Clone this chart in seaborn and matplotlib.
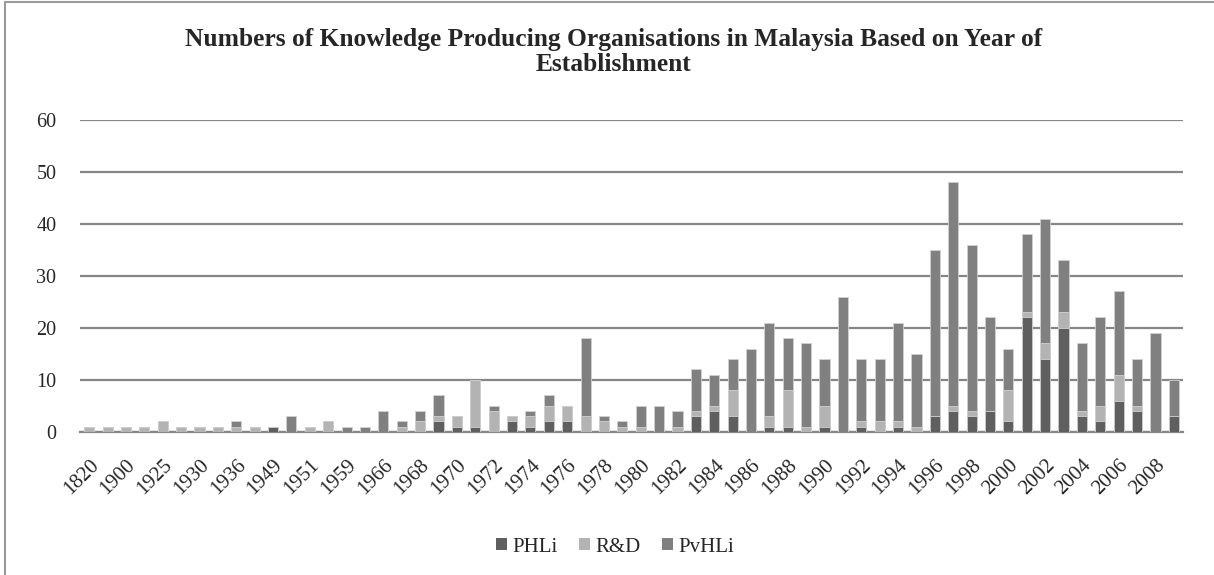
import matplotlib
matplotlib.use("Agg")
import matplotlib.pyplot as plt
import seaborn as sns
import numpy as np
from matplotlib.patches import Patch
from matplotlib.lines import Line2D

years = ["1820", "1890", "1900", "1920", "1925", "1928", "1930", "1935", "1936", "1946",
         "1949", "1950", "1951", "1955", "1959", "1963", "1966", "1967", "1968", "1969",
         "1970", "1971", "1972", "1973", "1974", "1975", "1976", "1977", "1978", "1979",
         "1980", "1981", "1982", "1983", "1984", "1985", "1986", "1987", "1988", "1989",
         "1990", "1991", "1992", "1993", "1994", "1995", "1996", "1997", "1998", "1999",
         "2000", "2001", "2002", "2003", "2004", "2005", "2006", "2007", "2008", "2009"]

phli = [0, 0, 0, 0, 0, 0, 0, 0, 0, 0,
        1, 0, 0, 0, 0, 0, 0, 0, 0, 2,
        1, 1, 0, 2, 1, 2, 2, 0, 0, 0,
        0, 0, 0, 3, 4, 3, 0, 1, 1, 0,
        1, 0, 1, 0, 1, 0, 3, 4, 3, 4,
        2, 22, 14, 20, 3, 2, 6, 4, 0, 3]

rnd = [1, 1, 1, 1, 2, 1, 1, 1, 1, 1,
       0, 0, 1, 2, 0, 0, 0, 1, 2, 1,
       2, 9, 4, 1, 2, 3, 3, 3, 2, 1,
       1, 0, 1, 1, 1, 5, 0, 2, 7, 1,
       4, 0, 1, 2, 1, 1, 0, 1, 1, 0,
       6, 1, 3, 3, 1, 3, 5, 1, 0, 0]

pvhli = [0, 0, 0, 0, 0, 0, 0, 0, 1, 0,
         0, 3, 0, 0, 1, 1, 4, 1, 2, 4,
         0, 0, 1, 0, 1, 2, 0, 15, 1, 1,
         4, 5, 3, 8, 6, 6, 16, 18, 10, 16,
         9, 26, 12, 12, 19, 14, 32, 43, 32, 18,
         8, 15, 24, 10, 13, 17, 16, 9, 19, 7]

series_names = ["PHLi", "R&D", "PvHLi"]
colors = {"PHLi": "#5f5f5f", "R&D": "#b3b3b3", "PvHLi": "#808080"}

sns.set_theme(style="white")
plt.rcParams["font.family"] = ["Liberation Serif", "DejaVu Serif"]

fig = plt.figure(figsize=(12.14, 5.75), dpi=100)
ax = fig.add_axes([0.0659, 0.2492, 0.9086, 0.5426])

p = np.array(phli)
r = np.array(rnd)
v = np.array(pvhli)
layers = [("PvHLi", p + r + v), ("R&D", p + r), ("PHLi", p)]
for name, vals in layers:
    sns.barplot(x=years, y=vals, order=years, color=colors[name], saturation=1,
                width=0.55, edgecolor="#d0d0d0", linewidth=0.6, ax=ax, zorder=3)

ax.set_ylim(0, 60)
ax.set_xlim(-0.5, len(years) - 0.5)
ax.set_yticks(range(0, 61, 10))
ax.yaxis.grid(True, color="#868686", linewidth=1.6, zorder=0)
ax.set_axisbelow(True)
for s in ["left", "right", "top"]:
    ax.spines[s].set_visible(False)
ax.spines["bottom"].set_color("#868686")
ax.spines["bottom"].set_linewidth(1.6)
ax.set_xlabel("")
ax.set_ylabel("")
ax.set_xticks(range(0, len(years), 2))
ax.set_xticklabels(years[::2], rotation=45, ha="right", rotation_mode="anchor",
                   fontsize=15)
ax.tick_params(axis="x", length=0, pad=17)
ax.tick_params(axis="y", length=0, pad=17, labelsize=14.5)

fig.text(614 / 1214, 1 - 52 / 575,
         "Numbers of Knowledge Producing Organisations in Malaysia Based on Year of\nEstablishment",
         ha="center", va="center", fontsize=18.4, fontweight="bold", linespacing=1.1)

handles = [Patch(facecolor=colors[n], edgecolor="none") for n in series_names]
fig.legend(handles, series_names, loc="center", bbox_to_anchor=(615 / 1214, 1 - 547 / 575),
           ncol=3, frameon=False, fontsize=15, handlelength=0.55, handleheight=0.55,
           handletextpad=0.25, columnspacing=1.0)

fig.add_artist(Line2D([5 / 1214, 5 / 1214], [0, 1 - 2 / 575], transform=fig.transFigure,
                      color="#9a9a9a", linewidth=1.5))
fig.add_artist(Line2D([5 / 1214, 1], [1 - 2 / 575, 1 - 2 / 575], transform=fig.transFigure,
                      color="#9a9a9a", linewidth=1.5))

fig.savefig("out.png", dpi=100)
